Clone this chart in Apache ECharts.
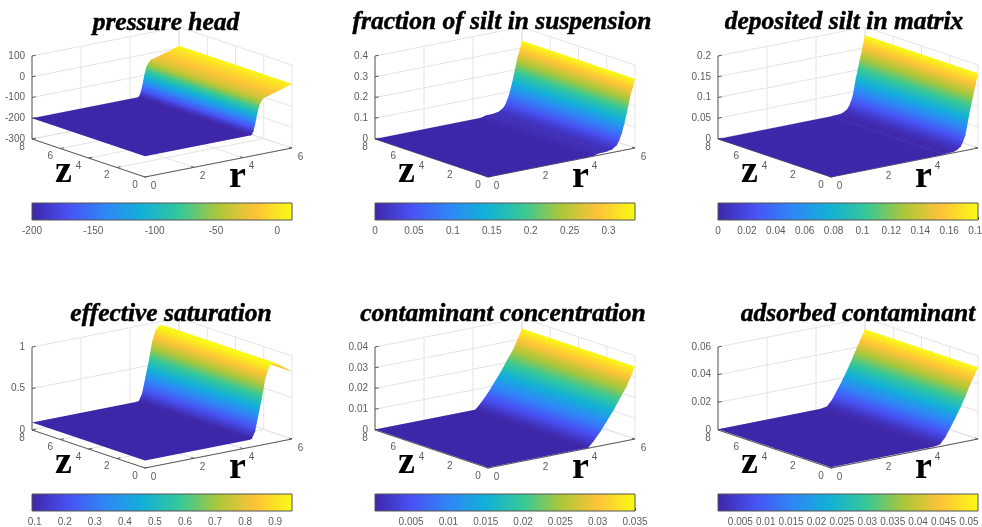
<!DOCTYPE html>
<html><head><meta charset="utf-8">
<style>html,body{margin:0;background:#fff}#c{width:982px;height:527px;filter:blur(0.45px)}</style>
<script src="https://cdn.jsdelivr.net/npm/echarts@6/dist/echarts.min.js"></script>
</head><body><div id="c"></div>
<script>
// ---- data ----
const titles = ['pressure head','fraction of silt in suspension','deposited silt in matrix','effective saturation','contaminant concentration','adsorbed contaminant'];
const rTicks = [0,2,4,6];
const zTicks = [0,2,4,6,8];

const pressureR = [0,4.3,4.36,4.42,4.49,4.54,4.585,4.63,4.67,4.75,4.83,4.95,5.1,5.37,5.7,6];
const pressureV = [-200,-200,-197,-184,-154,-125,-100,-78,-62,-45,-33,-28,-24,-14,-3,10];
const silt1R = [0,4.3,4.5,4.7,4.85,5.05,5.25,5.36,5.46,5.56,5.66,5.8,5.9,6];
const silt1V = [0,0.001,0.008,0.009,0.01,0.014,0.03,0.052,0.082,0.125,0.173,0.25,0.29,0.334];
const silt2R = [0,4.6,5,5.14,5.28,5.38,5.48,5.55,5.62,5.76,5.88,6];
const silt2V = [0,0.001,0.002,0.005,0.011,0.021,0.036,0.056,0.079,0.117,0.148,0.18];
const satR = [0,4.25,4.36,4.49,4.63,4.77,4.9,5.04,5.15,5.25,5.4,5.52,5.75,6];
const satV = [0.09,0.09,0.096,0.176,0.368,0.56,0.774,0.906,0.945,0.955,0.94,0.92,0.87,0.81];
const concR = [0,4.09,4.3,4.57,4.84,5.12,5.39,5.66,5.8,5.9,6];
const concV = [0.0002,0.0002,0.0027,0.0066,0.0111,0.0158,0.0211,0.0261,0.0298,0.0323,0.0349];
const adsR = [0,4.11,4.28,4.45,4.66,4.86,5.07,5.27,5.48,5.68,5.85,6];
const adsV = [0.0006,0.0006,0.0009,0.0016,0.0058,0.0118,0.0182,0.0248,0.0325,0.0402,0.0465,0.0518];

const vAxisMin = [-300,0,0,0,0,0];
const vAxisMax = [100,0.4,0.2,1,0.04,0.06];
const vTicks = [[-300,-200,-100,0,100],[0,0.1,0.2,0.3,0.4],[0,0.05,0.1,0.15,0.2],[0,0.5,1],[0,0.01,0.02,0.03,0.04],[0,0.02,0.04,0.06]];
const cbMin = [-200,0,0,0.091,0.00016,0.0006];
const cbMax = [12,0.334,0.18,0.956,0.035,0.0518];
const cbTicks = [[-200,-150,-100,-50,0],[0,0.05,0.1,0.15,0.2,0.25,0.3],[0,0.02,0.04,0.06,0.08,0.1,0.12,0.14,0.16,0.18],
  [0.1,0.2,0.3,0.4,0.5,0.6,0.7,0.8,0.9],[0.005,0.01,0.015,0.02,0.025,0.03,0.035],[0.005,0.01,0.015,0.02,0.025,0.03,0.035,0.04,0.045,0.05]];
const profR = [pressureR,silt1R,silt2R,satR,concR,adsR];
const profV = [pressureV,silt1V,silt2V,satV,concV,adsV];
const parula = [[62,38,168],[72,82,244],[46,135,247],[18,177,214],[55,200,151],[171,199,57],[254,195,56],[249,251,21]];

// ---- layout ----
const panelLeft = [32,375,718,32,375,718];
const panelTop = [27,27,27,318,318,318];
const boxW = 260, boxH = 150, cbH = 17;
const cbTop = [203,203,203,494,494,494];
const GRAY = '#5a5a5a', LIGHT = '#e4e4e4', TXT = '#5c5c5c';

function colorAt(t){
  t = Math.max(0,Math.min(1,t))*(parula.length-1);
  const i = Math.min(parula.length-2,Math.floor(t)), f = t-i;
  const a = parula[i], b = parula[i+1];
  return 'rgb('+[0,1,2].map(k=>Math.round(a[k]+(b[k]-a[k])*f)).join(',')+')';
}
// oblique view of the MATLAB box: normalised r,z,v -> the panel's hidden axes
function proj(p,r,z,v){
  const rn=r/6, zn=z/8, vn=(v-vAxisMin[p])/(vAxisMax[p]-vAxisMin[p]);
  return [113+147*rn-113*zn, 29*rn+38*zn+83*vn];
}

const grid=[],xAxis=[],yAxis=[],series=[],title=[],graphic=[];
const titleX=[161,497,839,166,498,853], titleY=[5,4,4,296,296,296];

titles.forEach((t,p)=>{
  const L=panelLeft[p],T=panelTop[p];
  title.push({text:t,left:titleX[p],top:titleY[p],textAlign:'center',
    textStyle:{fontFamily:'Liberation Serif',fontStyle:'italic',fontWeight:'bold',fontSize:25.5,color:'#000',textBorderColor:'#000',textBorderWidth:0.5}});
  // 3D box axes
  grid.push({left:L,top:T,width:boxW,height:boxH,show:false,outerBoundsMode:'none'});
  xAxis.push({type:'value',gridIndex:2*p,min:0,max:boxW,show:false});
  yAxis.push({type:'value',gridIndex:2*p,min:0,max:boxH,show:false});
  // colorbar axes
  grid.push({left:L,top:cbTop[p],width:boxW,height:cbH,show:false,outerBoundsMode:'none'});
  xAxis.push({type:'value',gridIndex:2*p+1,min:cbMin[p],max:cbMax[p],splitLine:{show:false},
    axisLine:{show:false},
    axisTick:{show:true,inside:true,length:3,lineStyle:{color:'#4a4a4a',width:1},customValues:cbTicks[p]},
    axisLabel:{color:TXT,fontSize:10,fontFamily:'Liberation Sans',margin:6,hideOverlap:false,customValues:cbTicks[p]}});
  yAxis.push({type:'value',gridIndex:2*p+1,min:0,max:1,show:false});

  const vMin=vAxisMin[p],vMax=vAxisMax[p];
  // lines: [r0,z0,v0,r1,z1,v1,dark]
  const lines=[];
  const add=(a,b,d)=>lines.push([...a,...b,d?1:0]);
  vTicks[p].forEach(v=>{ add([0,8,v],[6,8,v]); add([6,8,v],[6,0,v]); });
  rTicks.forEach(r=>{ add([r,8,vMin],[r,8,vMax]); add([r,0,vMin],[r,8,vMin]); });
  zTicks.forEach(z=>{ add([6,z,vMin],[6,z,vMax]); add([0,z,vMin],[6,z,vMin]); });
  add([0,0,vMin],[6,0,vMin],1);
  add([0,0,vMin],[0,8,vMin],1);
  add([0,8,vMin],[0,8,vMax],1);
  rTicks.forEach(r=>add([r,0,vMin],[r,0.2,vMin],1));
  zTicks.forEach(z=>add([0,z,vMin],[0.15,z,vMin],1));
  vTicks[p].forEach(v=>add([0,8,v],[0.15,8,v],1));
  series.push({type:'custom',coordinateSystem:'cartesian2d',xAxisIndex:2*p,yAxisIndex:2*p,silent:true,clip:false,
    data:lines,dimensions:['a','b','c','d','e','f','g'],encode:{x:0,y:1},
    renderItem:(params,api)=>{
      const P=proj(p,api.value(0),api.value(1),api.value(2)),Q=proj(p,api.value(3),api.value(4),api.value(5));
      const a=api.coord(P),b=api.coord(Q);
      return {type:'line',z2:api.value(6)?2:1,shape:{x1:a[0],y1:a[1],x2:b[0],y2:b[1]},
        style:{stroke:api.value(6)?GRAY:LIGHT,lineWidth:1,fill:null}};
    }});

  // surface strips, far (high r) to near
  const R=profR[p],V=profV[p],strips=[];
  for(let i=R.length-2;i>=0;i--) strips.push([R[i],V[i],R[i+1],V[i+1]]);
  const c0=cbMin[p],c1=cbMax[p];
  series.push({type:'custom',coordinateSystem:'cartesian2d',xAxisIndex:2*p,yAxisIndex:2*p,silent:true,clip:false,z:3,
    data:strips,dimensions:['r0','v0','r1','v1'],encode:{x:0,y:1},
    renderItem:(params,api)=>{
      const r0=api.value(0),v0=api.value(1),r1=api.value(2),v1=api.value(3);
      const A=api.coord(proj(p,r0,0,v0)),B=api.coord(proj(p,r1,0,v1)),
            C=api.coord(proj(p,r1,8,v1)),D=api.coord(proj(p,r0,8,v0));
      let dx=D[0]-A[0],dy=D[1]-A[1];const n=Math.hypot(dx,dy);dx/=n;dy/=n;
      const nx=-dy,ny=dx,s=(B[0]-A[0])*nx+(B[1]-A[1])*ny;
      const stops=[];
      for(let k=0;k<=8;k++) stops.push({offset:k/8,color:colorAt(((v0+(v1-v0)*k/8)-c0)/(c1-c0))});
      const grad=new echarts.graphic.LinearGradient(A[0],A[1],A[0]+nx*s,A[1]+ny*s,stops,true);
      // let the strip lap 1px under its farther neighbour so no antialiasing seam shows
      const far=params.dataIndex===0?0:1;
      const ex=B[0]-A[0],ey=B[1]-A[1],el=Math.hypot(ex,ey)||1,ox=ex/el*far,oy=ey/el*far;
      const B2=[B[0]+ox,B[1]+oy],C2=[C[0]+ox,C[1]+oy];
      return {type:'polygon',shape:{points:[A,B2,C2,D]},style:{fill:grad}};
    }});

  // tick labels: [r,z,v]
  const labels=[],info=[];
  const addL=(pt,txt,dx,dy,al)=>{labels.push(pt);info.push({txt,dx,dy,al});};
  zTicks.forEach(z=>addL([0,z,vMin],String(z),-10,8,'center'));
  rTicks.forEach(r=>addL([r,0,vMin],String(r),8.5,9,'center'));
  vTicks[p].forEach(v=>addL([0,8,v],String(v),-7,0,'right'));
  series.push({type:'custom',coordinateSystem:'cartesian2d',xAxisIndex:2*p,yAxisIndex:2*p,silent:true,clip:false,
    data:labels,dimensions:['r','z','v'],encode:{x:0,y:1},
    renderItem:(params,api)=>{
      const a=api.coord(proj(p,api.value(0),api.value(1),api.value(2))),o=info[params.dataIndex];
      return {type:'text',x:a[0]+o.dx,y:a[1]+o.dy,style:{text:o.txt,fill:TXT,fontSize:10,fontFamily:'Liberation Sans',textAlign:o.al,textVerticalAlign:'middle'}};
    }});

  // colorbar
  series.push({type:'custom',coordinateSystem:'cartesian2d',xAxisIndex:2*p+1,yAxisIndex:2*p+1,silent:true,clip:false,
    data:[[cbMin[p],0,cbMax[p],1]],dimensions:['a','b','c','d'],encode:{x:0,y:1},
    renderItem:(params,api)=>{
      const a=api.coord([api.value(0),api.value(1)]),b=api.coord([api.value(2),api.value(3)]);
      const stops=parula.map((c,i)=>({offset:i/(parula.length-1),color:'rgb('+c.join(',')+')'}));
      return {type:'rect',shape:{x:a[0],y:b[1],width:b[0]-a[0],height:a[1]-b[1]},
        style:{fill:new echarts.graphic.LinearGradient(0,0,1,0,stops),stroke:'#555',lineWidth:1}};
    }});

  // big axis letters
  const font='bold 38px "Liberation Serif"';
  graphic.push({type:'text',left:L+31-8,top:T+boxH-24,z:10,style:{text:'z',font,fill:'#000'}});
  graphic.push({type:'text',left:L+205-8,top:T+boxH-19,z:10,style:{text:'r',font,fill:'#000'}});
});

const chart=echarts.init(document.getElementById('c'),null,{renderer:'canvas'});
chart.setOption({animation:false,backgroundColor:'#fff',title,grid,xAxis,yAxis,series,graphic});
</script></body></html>
